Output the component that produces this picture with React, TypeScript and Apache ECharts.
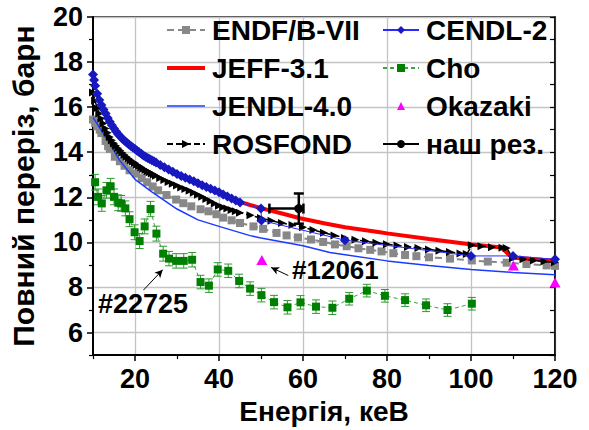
import React, { useEffect, useRef } from "react";
import * as echarts from "echarts";

const FONT = '"Liberation Sans", Arial, sans-serif';

// Axis ticks
const xMajor = [20, 40, 60, 80, 100, 120];
const xMinor = [10, 30, 50, 70, 90, 110];
const yMajor = [6, 8, 10, 12, 14, 16, 18, 20];
const yMinor = [5, 7, 9, 11, 13, 15, 17, 19];

// ENDF/B-VII
const endfE = [10, 10.5, 11, 11.6, 12, 13, 13.6, 14, 15.2, 16.4, 17.5, 18.7, 20.3, 21.6, 22.9, 24.2, 25.5, 27.5, 29.8, 31.5, 33.4, 35.6, 37.5, 39.4, 41, 43, 45, 48.2, 50.5, 53.7, 56.1, 58.8, 61.9, 64.8, 67.6, 70.4, 73.2, 76, 78.7, 81.5, 84.3, 87, 90, 95, 100.2, 104, 108.5, 113.2, 118, 120];
const endfV = [15.45, 15.3, 15.15, 15.0, 14.85, 14.5, 14.27, 14.15, 13.8, 13.6, 13.4, 13.2, 13.05, 12.85, 12.67, 12.48, 12.31, 12.1, 11.9, 11.74, 11.6, 11.47, 11.38, 11.25, 11.1, 10.98, 10.86, 10.71, 10.6, 10.42, 10.31, 10.22, 10.13, 10.02, 9.91, 9.83, 9.74, 9.67, 9.6, 9.52, 9.44, 9.39, 9.34, 9.28, 9.2, 9.15, 9.1, 9.04, 8.98, 8.96];

// JEFF-3.1
const jeffE = [45, 47.4, 50, 55, 59.3, 65, 70, 78.3, 80, 90, 100.2, 107.3, 109.7, 115, 120];
const jeffV = [11.8, 11.66, 11.52, 11.28, 11.07, 10.85, 10.67, 10.45, 10.4, 10.15, 9.91, 9.77, 9.33, 9.25, 9.17];

// JENDL-4.0
const jendlE = [10, 13.6, 16.3, 20, 24, 30, 35, 40, 47.4, 50, 60, 66.4, 80, 90, 100, 110, 120];
const jendlV = [15.55, 14.5, 13.65, 12.8, 12.24, 11.48, 11.0, 10.71, 10.3, 10.2, 9.85, 9.55, 9.18, 8.98, 8.8, 8.67, 8.57];

// ROSFOND
const rosE = [10, 10.5, 11, 11.5, 12, 12.5, 13, 13.5, 14, 14.5, 15, 15.5, 16, 16.5, 17, 17.5, 18, 18.5, 19, 19.5, 20, 20.5, 21, 21.5, 22, 22.5, 23, 23.5, 24, 24.5, 25, 26, 27, 28, 29, 30, 31, 32, 33, 34, 35, 36, 37, 38, 39, 40, 41, 42, 43, 44, 45, 47.5, 50, 52.5, 55, 57.5, 60, 62.5, 65, 67.5, 70, 72.5, 75, 77.5, 80, 82.5, 85, 87.5, 90, 92.5, 95, 97.5, 99, 100.2, 102.5, 105, 107.5, 108.5, 110, 112.5, 115, 117.5, 120];
const rosV = [16.65, 16.28, 15.95, 15.72, 15.5, 15.27, 15.05, 14.86, 14.68, 14.53, 14.4, 14.29, 14.18, 14.08, 13.98, 13.89, 13.8, 13.72, 13.65, 13.58, 13.52, 13.45, 13.39, 13.33, 13.27, 13.21, 13.16, 13.11, 13.06, 13.01, 12.96, 12.86, 12.77, 12.68, 12.6, 12.52, 12.44, 12.37, 12.29, 12.2, 12.11, 12.02, 11.93, 11.83, 11.73, 11.63, 11.56, 11.5, 11.44, 11.38, 11.32, 11.2, 11.08, 10.96, 10.86, 10.77, 10.67, 10.55, 10.43, 10.31, 10.2, 10.12, 10.05, 9.98, 9.92, 9.86, 9.8, 9.75, 9.69, 9.63, 9.57, 9.51, 9.48, 9.87, 9.83, 9.79, 9.76, 9.75, 9.3, 9.25, 9.2, 9.15, 9.12];

// CENDL-2
const cendlE = [10, 10.25, 10.5, 11, 11.5, 12, 12.5, 13, 13.5, 14, 14.5, 15, 15.5, 16, 16.5, 17, 17.5, 18, 18.5, 19, 19.5, 20, 20.5, 21, 21.5, 22, 22.5, 23, 23.5, 24, 24.5, 25, 26, 27, 28, 29, 30, 31, 32, 33, 34, 35, 36, 37, 38, 39, 40, 41, 42, 43, 44, 45, 50, 50.1, 70, 100, 110, 120];
const cendlV = [17.45, 17.2, 16.95, 16.6, 16.32, 16.1, 15.9, 15.72, 15.52, 15.35, 15.2, 15.05, 14.92, 14.8, 14.7, 14.6, 14.51, 14.43, 14.35, 14.28, 14.21, 14.14, 14.07, 14.0, 13.93, 13.86, 13.8, 13.75, 13.7, 13.65, 13.6, 13.55, 13.43, 13.33, 13.23, 13.13, 13.03, 12.95, 12.87, 12.79, 12.71, 12.62, 12.54, 12.46, 12.38, 12.3, 12.22, 12.13, 12.04, 11.95, 11.86, 11.77, 11.5, 10.97, 10.1, 9.4, 9.4, 9.25];

// Cho
const choE = [10.5, 11.2, 12.1, 13.2, 14.2, 15.0, 16.0, 16.7, 17.7, 18.7, 19.9, 21.1, 22.3, 23.7, 25.1, 26.7, 28.1, 29.8, 31.6, 33.6, 35.6, 37.6, 39.7, 42.2, 44.8, 47.4, 50.1, 53.1, 56.3, 59.4, 63.1, 67.0, 71.0, 75.2, 79.5, 84.3, 89.3, 94.4, 100.2];
const choV = [12.67, 12.02, 11.73, 12.31, 12.49, 12.02, 11.76, 11.73, 11.51, 11.03, 10.45, 10.06, 10.71, 11.48, 10.39, 9.5, 9.28, 9.18, 9.18, 9.23, 8.24, 8.08, 8.8, 8.74, 8.29, 7.95, 7.66, 7.35, 7.12, 7.34, 7.15, 7.1, 7.5, 7.86, 7.63, 7.44, 7.21, 7.0, 7.28];
const choErr = [0.35, 0.35, 0.35, 0.35, 0.35, 0.35, 0.35, 0.35, 0.33, 0.33, 0.33, 0.33, 0.33, 0.34, 0.33, 0.33, 0.32, 0.32, 0.32, 0.32, 0.3, 0.3, 0.3, 0.3, 0.3, 0.3, 0.3, 0.3, 0.3, 0.3, 0.3, 0.3, 0.28, 0.28, 0.28, 0.28, 0.28, 0.28, 0.28];

// Okazaki
const okaE = [50.2, 110.1, 120];
const okaV = [9.22, 8.97, 8.22];

// наш рез.
const ourE = [59];
const ourV = [11.5];
const ourYErr = [0.67];
const ourXLow = [52];
const ourXHigh = [60.1];

// annotation arrows [fromX, fromY, toX, toY] in data units
const arrow12061 = [56.5, 8.53, 52.4, 8.89];
const arrow22725 = [22.0, 7.88, 26.6, 8.79];

const zip = (a: number[], b: number[]) => a.map((x, i) => [x, b[i]]);

export default function App() {
  const ref = useRef<HTMLDivElement>(null);
  useEffect(() => {
    if (!ref.current) return;
    const chart = echarts.init(ref.current, null, { renderer: "svg" });
    const tickText = { fontSize: 27, fontWeight: "bold", color: "#000", fontFamily: FONT };
    const legendText = { fontSize: 28, fontWeight: "bold", color: "#000", fontFamily: FONT, padding: [0, 0, 0, 2] };
    const option: any = {
      animation: false,
      backgroundColor: "#fff",
      grid: { left: 93, right: 34, top: 17, bottom: 69, show: true, borderColor: "#000", borderWidth: 1.5, backgroundColor: "transparent" },
      xAxis: [
        {
          type: "value", min: 10, max: 120, position: "bottom",
          axisLine: { show: true, onZero: false, lineStyle: { color: "#000", width: 2 } },
          axisTick: { show: true, inside: false, length: 6, customValues: xMajor, lineStyle: { color: "#000", width: 1.5 } },
          axisLabel: { customValues: xMajor, margin: 10, ...tickText },
          splitLine: { show: true, lineStyle: { color: "#c4c4c4", width: 1.3 } },
          name: "Енергія, кеВ", nameLocation: "middle", nameGap: 36,
          nameTextStyle: { fontSize: 28, fontWeight: "bold", color: "#000", fontFamily: FONT },
        },
        {
          type: "value", min: 10, max: 120, position: "bottom",
          axisLine: { show: false }, axisLabel: { show: false }, splitLine: { show: false },
          axisTick: { show: true, length: 4, customValues: xMinor, lineStyle: { color: "#000", width: 1.2 } },
        },
      ],
      yAxis: [
        {
          type: "value", min: 5, max: 20, position: "left",
          axisLine: { show: true, onZero: false, lineStyle: { color: "#000", width: 2 } },
          axisTick: { show: true, inside: false, length: 6, customValues: yMajor, lineStyle: { color: "#000", width: 1.5 } },
          axisLabel: { customValues: yMajor, margin: 10, ...tickText },
          splitLine: { show: true, lineStyle: { color: "#c4c4c4", width: 1.3 } },
          name: "Повний переріз, барн", nameLocation: "middle", nameGap: 55,
          nameTextStyle: { fontSize: 30, fontWeight: "bold", color: "#000", fontFamily: FONT },
        },
        {
          type: "value", min: 5, max: 20, position: "left",
          axisLine: { show: false }, axisLabel: { show: false }, splitLine: { show: false },
          axisTick: { show: true, length: 4, customValues: yMinor, lineStyle: { color: "#000", width: 1.2 } },
        },
        {
          type: "value", min: 5, max: 20, interval: 1, position: "right",
          axisLine: { show: true, onZero: false, lineStyle: { color: "#000", width: 1.5 } },
          axisLabel: { show: false }, splitLine: { show: false },
          axisTick: { show: true, inside: true, length: 5, lineStyle: { color: "#000", width: 1.2 } },
        },
      ],
      legend: [
        {
          orient: "vertical", left: 165, top: 16, padding: 0, itemGap: 10, itemWidth: 38, itemHeight: 10,
          data: [
            "ENDF/B-VII",
            { name: "JEFF-3.1", itemStyle: { opacity: 0 }, lineStyle: { width: 4, color: "#ff0000" } },
            { name: "JENDL-4.0", itemStyle: { opacity: 0 }, lineStyle: { width: 1.5, color: "#1a3cff" } },
            "ROSFOND",
          ],
          textStyle: legendText,
        },
        {
          orient: "vertical", left: 382, top: 16, padding: 0, itemGap: 10, itemWidth: 36, itemHeight: 10,
          data: ["CENDL-2", "Cho", "Okazaki", "наш рез."],
          textStyle: legendText,
        },
      ],
      graphic: [
        { type: "text", x: 292, y: 270, style: { text: "#12061", font: `bold 26px ${FONT}`, fill: "#000", verticalAlign: "middle" }, z: 100 },
        { type: "text", x: 98, y: 304, style: { text: "#22725", font: `bold 27px ${FONT}`, fill: "#000", verticalAlign: "middle" }, z: 100 },
      ],
      series: [
        {
          name: "ENDF/B-VII", type: "line", data: zip(endfE, endfV), showAllSymbol: true,
          symbol: "rect", symbolSize: 8, itemStyle: { color: "#888888" },
          lineStyle: { color: "#888888", width: 2, type: [7, 4] }, z: 2,
        },
        {
          name: "JEFF-3.1", type: "line", data: zip(jeffE, jeffV), showSymbol: false,
          itemStyle: { color: "#ff0000", opacity: 0 }, lineStyle: { color: "#ff0000", width: 4 }, z: 3,
        },
        {
          name: "JENDL-4.0", type: "line", data: zip(jendlE, jendlV), showSymbol: false,
          itemStyle: { color: "#1a3cff", opacity: 0 }, lineStyle: { color: "#1a3cff", width: 1.5 }, z: 3,
        },
        {
          name: "ROSFOND", type: "line", data: zip(rosE, rosV), showAllSymbol: true,
          symbol: "triangle", symbolRotate: -90, symbolSize: 8, itemStyle: { color: "#000" },
          lineStyle: { color: "#000", width: 1.5, type: [6, 3] }, z: 4,
        },
        {
          name: "CENDL-2", type: "line", data: zip(cendlE, cendlV), showAllSymbol: true,
          symbol: "diamond", symbolSize: 10, itemStyle: { color: "#1818c0" },
          lineStyle: { color: "#2a2aff", width: 1 }, z: 5,
        },
        {
          name: "Cho", type: "line", data: zip(choE, choV), showAllSymbol: true,
          symbol: "rect", symbolSize: 8, itemStyle: { color: "#008000" },
          lineStyle: { color: "#40a040", width: 1, type: [4, 3] }, z: 6,
        },
        {
          name: "Cho-err", type: "custom", z: 5,
          data: choE.map((x, i) => [x, choV[i], choErr[i]]),
          encode: { x: 0, y: 1 },
          renderItem: (params: any, api: any) => {
            const x = api.value(0), y = api.value(1), e = api.value(2);
            const t = api.coord([x, y + e]);
            const b = api.coord([x, y - e]);
            const cw = 4;
            const style = { stroke: "#2e9a2e", lineWidth: 1 };
            return {
              type: "group",
              children: [
                { type: "line", shape: { x1: t[0], y1: t[1], x2: b[0], y2: b[1] }, style },
                { type: "line", shape: { x1: t[0] - cw, y1: t[1], x2: t[0] + cw, y2: t[1] }, style },
                { type: "line", shape: { x1: b[0] - cw, y1: b[1], x2: b[0] + cw, y2: b[1] }, style },
              ],
            };
          },
        },
        {
          name: "Okazaki", type: "line", data: zip(okaE, okaV), showAllSymbol: true,
          symbol: "triangle", symbolSize: [11, 10], itemStyle: { color: "#ff00ff" },
          lineStyle: { opacity: 0, width: 0 }, z: 7,
          markLine: {
            silent: true, symbol: ["none", "arrow"], symbolSize: [6, 8], animation: false,
            lineStyle: { color: "#000", width: 1, type: "solid", opacity: 1 }, label: { show: false },
            data: [
              [{ coord: [arrow12061[0], arrow12061[1]] }, { coord: [arrow12061[2], arrow12061[3]] }],
              [{ coord: [arrow22725[0], arrow22725[1]] }, { coord: [arrow22725[2], arrow22725[3]] }],
            ],
          },
        },
        {
          name: "наш рез.", type: "line", data: zip(ourE, ourV),
          symbol: "circle", symbolSize: 9, itemStyle: { color: "#000" },
          lineStyle: { color: "#000", width: 2.5 }, z: 9,
        },
        {
          name: "our-err", type: "custom", z: 8,
          data: ourE.map((x, i) => [x, ourV[i], ourYErr[i], ourXLow[i], ourXHigh[i]]),
          encode: { x: 0, y: 1 },
          renderItem: (params: any, api: any) => {
            const x = api.value(0), y = api.value(1), e = api.value(2);
            const xl = api.value(3), xh = api.value(4);
            const t = api.coord([x, y + e]);
            const b = api.coord([x, y - e]);
            const l = api.coord([xl, y]);
            const r = api.coord([xh, y]);
            const cw = 5;
            const style = { stroke: "#000", lineWidth: 2.5 };
            return {
              type: "group",
              children: [
                { type: "line", shape: { x1: t[0], y1: t[1], x2: b[0], y2: b[1] }, style },
                { type: "line", shape: { x1: t[0] - cw, y1: t[1], x2: t[0] + cw, y2: t[1] }, style },
                { type: "line", shape: { x1: b[0] - cw, y1: b[1], x2: b[0] + cw, y2: b[1] }, style },
                { type: "line", shape: { x1: l[0], y1: l[1], x2: r[0], y2: r[1] }, style },
                { type: "line", shape: { x1: l[0], y1: l[1] - cw, x2: l[0], y2: l[1] + cw }, style },
                { type: "line", shape: { x1: r[0], y1: r[1] - cw, x2: r[0], y2: r[1] + cw }, style },
              ],
            };
          },
        },
      ],
    };
    chart.setOption(option);
    return () => chart.dispose();
  }, []);
  return <div ref={ref} style={{ width: 589, height: 430, position: "absolute", left: 0, top: 0 }} />;
}
